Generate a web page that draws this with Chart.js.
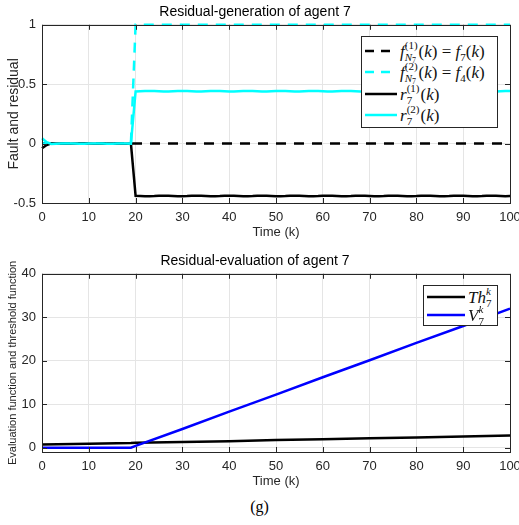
<!DOCTYPE html>
<html>
<head>
<meta charset="utf-8">
<script src="https://cdn.jsdelivr.net/npm/chart.js@4"></script>
<style>
  body { margin: 0; background: #fff; width: 519px; height: 525px; position: relative; overflow: hidden; }
  .wrap { position: absolute; left: 0; width: 519px; height: 240px; }
  .legend { position: absolute; background: #fff; border: 1px solid #262626; font-family: "Liberation Serif", "DejaVu Serif", serif; font-size: 17px; font-weight: normal; color: #111; box-sizing: border-box; }
  .legend .row { position: absolute; left: 0; height: 22px; display: flex; align-items: center; white-space: nowrap; }
  .legend svg { flex: none; margin-left: 3px; margin-right: 3px; }
  .legend i { font-style: italic; }
  .ss { display: inline-block; vertical-align: -4px; font-size: 11px; line-height: 12px; margin-right: 1px; }
  .ss span { display: block; }
  .ss sub { font-size: 8px; vertical-align: -2px; line-height: 0; }
  .lowsub { font-size: 11px; vertical-align: -4px; line-height: 0; }
  #caption { position: absolute; top: 498px; left: 0; width: 519px; text-align: center; font-family: "Liberation Serif", "DejaVu Serif", serif; font-size: 16px; color: #000; }
</style>
</head>
<body>
<div class="wrap" style="top:0px"><canvas id="residual_generation_chart"></canvas></div>
<div class="wrap" style="top:249px"><canvas id="residual_evaluation_chart"></canvas></div>

<div class="legend" style="left:361px; top:36px; width:137px; height:92px;">
  <div class="row" style="top:3px">
    <svg width="32" height="6"><line x1="0" y1="3" x2="32" y2="3" stroke="#000" stroke-width="2.5" stroke-dasharray="9,7"/></svg>
    <span><i>f</i><span class="ss"><span>(1)</span><span><i>N</i><sub>7</sub></span></span>(<i>k</i>) = <i>f</i><span class="lowsub">7</span>(<i>k</i>)</span>
  </div>
  <div class="row" style="top:24px">
    <svg width="32" height="6"><line x1="0" y1="3" x2="32" y2="3" stroke="#00ffff" stroke-width="2.5" stroke-dasharray="9,7"/></svg>
    <span><i>f</i><span class="ss"><span>(2)</span><span><i>N</i><sub>7</sub></span></span>(<i>k</i>) = <i>f</i><span class="lowsub">4</span>(<i>k</i>)</span>
  </div>
  <div class="row" style="top:46px">
    <svg width="32" height="6"><line x1="0" y1="3" x2="32" y2="3" stroke="#000" stroke-width="2.5"/></svg>
    <span><i>r</i><span class="ss"><span>(1)</span><span>7</span></span>(<i>k</i>)</span>
  </div>
  <div class="row" style="top:67px">
    <svg width="32" height="6"><line x1="0" y1="3" x2="32" y2="3" stroke="#00ffff" stroke-width="2.5"/></svg>
    <span><i>r</i><span class="ss"><span>(2)</span><span>7</span></span>(<i>k</i>)</span>
  </div>
</div>

<div class="legend" style="left:423px; top:285px; width:75px; height:41px;">
  <div class="row" style="top:0px">
    <svg width="38" height="6"><line x1="0" y1="3" x2="38" y2="3" stroke="#000" stroke-width="2.5"/></svg>
    <span><i>Th</i><span class="ss"><span><i>k</i></span><span>7</span></span></span>
  </div>
  <div class="row" style="top:18px">
    <svg width="38" height="6"><line x1="0" y1="3" x2="38" y2="3" stroke="#0000ff" stroke-width="2.5"/></svg>
    <span><i>V</i><span class="ss"><span><i>k</i></span><span>7</span></span></span>
  </div>
</div>

<div id="caption">(g)</div>

<script>
// time steps
const k_values = [0,1,2,3,4,5,6,7,8,9,10,11,12,13,14,15,16,17,18,19,20,
  21,22,23,24,25,26,27,28,29,30,31,32,33,34,35,36,37,38,39,40,
  41,42,43,44,45,46,47,48,49,50,51,52,53,54,55,56,57,58,59,60,
  61,62,63,64,65,66,67,68,69,70,71,72,73,74,75,76,77,78,79,80,
  81,82,83,84,85,86,87,88,89,90,91,92,93,94,95,96,97,98,99,100];

// faults (break points)
const fault1_k = [0, 100];
const fault1_values = [0, 0];
const fault2_k = [0, 19, 20, 100];
const fault2_values = [0, 0, 1, 1];

// residual r7(1)
const residual1_values = [-0.040,-0.012,0.002,0.001,0.000,-0.001,-0.001,0.000,0.001,0.001,0.000,
  -0.001,-0.001,0.000,0.001,0.001,0.000,-0.001,-0.001,0.000,-0.439,
  -0.441,-0.443,-0.443,-0.442,-0.440,-0.438,-0.439,-0.441,-0.443,-0.443,
  -0.442,-0.440,-0.438,-0.439,-0.441,-0.443,-0.443,-0.442,-0.440,-0.438,
  -0.439,-0.441,-0.443,-0.443,-0.442,-0.440,-0.438,-0.439,-0.441,-0.443,
  -0.443,-0.442,-0.440,-0.438,-0.439,-0.441,-0.443,-0.443,-0.442,-0.440,
  -0.438,-0.439,-0.441,-0.443,-0.443,-0.442,-0.440,-0.438,-0.439,-0.441,
  -0.443,-0.443,-0.442,-0.440,-0.438,-0.439,-0.441,-0.443,-0.443,-0.442,
  -0.440,-0.438,-0.439,-0.441,-0.443,-0.443,-0.442,-0.440,-0.438,-0.439,
  -0.441,-0.443,-0.443,-0.442,-0.440,-0.438,-0.439,-0.441,-0.443,-0.442];

// residual r7(2)
const residual2_values = [0.045,0.012,-0.003,-0.001,0.000,0.001,0.001,0.000,-0.001,-0.001,0.000,
  0.001,0.001,0.000,-0.001,-0.001,0.000,0.001,0.001,0.000,0.439,
  0.441,0.443,0.443,0.442,0.440,0.438,0.439,0.441,0.443,0.443,
  0.442,0.440,0.438,0.439,0.441,0.443,0.443,0.442,0.440,0.438,
  0.439,0.441,0.443,0.443,0.442,0.440,0.438,0.439,0.441,0.443,
  0.443,0.442,0.440,0.438,0.439,0.441,0.443,0.443,0.442,0.440,
  0.438,0.439,0.441,0.443,0.443,0.442,0.440,0.438,0.439,0.441,
  0.443,0.443,0.442,0.440,0.438,0.439,0.441,0.443,0.443,0.442,
  0.440,0.438,0.439,0.441,0.443,0.443,0.442,0.440,0.438,0.439,
  0.441,0.443,0.443,0.442,0.440,0.438,0.439,0.441,0.443,0.442];

// evaluation / threshold
const eval_k = [0, 10, 19, 20, 30, 40, 50, 60, 70, 80, 90, 100];
const threshold_values = [0.7, 0.9, 1.05, 1.1, 1.3, 1.5, 1.75, 1.95, 2.15, 2.35, 2.55, 2.8];
const evaluation_values = [0, 0, 0, 0.4, 4.3, 8.3, 12.2, 16.2, 20.1, 24.1, 28.0, 32.0];

const x_ticks = [0, 10, 20, 30, 40, 50, 60, 70, 80, 90, 100];
const top_y_ticks = [-0.5, 0, 0.5, 1];
const bottom_y_ticks = [0, 10, 20, 30, 40];

const axis_color = '#262626';
const grid_color = '#e5e5e5';
const font_family = '"Liberation Sans", Arial, sans-serif';

function to_points(xs, ys) {
    return xs.map((x, i) => ({ x: x, y: ys[i] }));
}

// box round the plot area with inward tick marks
const box_plugin = {
    id: 'box_plugin',
    afterDatasetsDraw(chart) {
        const ctx = chart.ctx;
        const area = chart.chartArea;
        const x_scale = chart.scales.x;
        const y_scale = chart.scales.y;
        ctx.save();
        ctx.strokeStyle = axis_color;
        ctx.lineWidth = 1;
        ctx.beginPath();
        x_scale.ticks.forEach(t => {
            const px = Math.round(x_scale.getPixelForValue(t.value)) + 0.5;
            ctx.moveTo(px, area.bottom); ctx.lineTo(px, area.bottom - 5);
            ctx.moveTo(px, area.top); ctx.lineTo(px, area.top + 5);
        });
        y_scale.ticks.forEach(t => {
            const py = Math.round(y_scale.getPixelForValue(t.value)) + 0.5;
            ctx.moveTo(area.left, py); ctx.lineTo(area.left + 5, py);
            ctx.moveTo(area.right, py); ctx.lineTo(area.right - 5, py);
        });
        ctx.stroke();
        ctx.strokeRect(Math.round(area.left) + 0.5, Math.round(area.top) + 0.5,
            Math.round(area.right - area.left), Math.round(area.bottom - area.top));
        ctx.restore();
    }
};

function make_options(title_text, y_title, y_title_size, y_min, y_max, y_ticks) {
    return {
        responsive: false,
        animation: false,
        layout: { padding: { left: 0, right: 9, top: 0, bottom: 0 } },
        plugins: {
            legend: false,
            tooltip: { enabled: false },
            title: {
                display: true,
                text: title_text,
                color: '#000',
                font: { family: font_family, size: 14, weight: 'normal' },
                padding: { top: 4, bottom: 4 }
            }
        },
        scales: {
            x: {
                type: 'linear',
                min: 0, max: 100,
                afterFit(scale) { scale.height = 37; scale.paddingRight = 0; scale.paddingLeft = 0; },
                afterBuildTicks(scale) { scale.ticks = x_ticks.map(v => ({ value: v })); },
                grid: { color: grid_color, drawTicks: false },
                border: { display: false },
                ticks: { color: axis_color, padding: 7, font: { family: font_family, size: 13 } },
                title: { display: true, text: 'Time (k)', color: axis_color, padding: { top: 0, bottom: 0 },
                    font: { family: font_family, size: 13 } }
            },
            y: {
                min: y_min, max: y_max,
                afterFit(scale) { scale.width = 42; scale.paddingTop = 0; scale.paddingBottom = 0; },
                afterBuildTicks(scale) { scale.ticks = y_ticks.map(v => ({ value: v })); },
                grid: { color: grid_color, drawTicks: false },
                border: { display: false },
                ticks: { color: axis_color, padding: 6, font: { family: font_family, size: 13 },
                    callback: value => String(value) },
                title: { display: true, text: y_title, color: axis_color, padding: { top: 6, bottom: 0 },
                    font: { family: font_family, size: y_title_size } }
            }
        }
    };
}

function get_residual_generation_chart() {
    const residual_generation_chart = document.getElementById('residual_generation_chart');
    residual_generation_chart.width = 519;
    residual_generation_chart.height = 240;

    new Chart(residual_generation_chart, {
        type: 'line',
        data: {
            datasets: [{
                data: to_points(k_values, residual2_values),
                borderColor: '#00ffff', borderWidth: 2.5, pointRadius: 0, order: 0, clip: 4
            }, {
                data: to_points(k_values, residual1_values),
                borderColor: '#000000', borderWidth: 2.5, pointRadius: 0, order: 1, clip: 4
            }, {
                data: to_points(fault2_k, fault2_values),
                borderColor: '#00ffff', borderWidth: 2.5, borderDash: [10, 8], pointRadius: 0, order: 2, clip: 4
            }, {
                data: to_points(fault1_k, fault1_values),
                borderColor: '#000000', borderWidth: 2.5, borderDash: [10, 8], pointRadius: 0, order: 3, clip: 4
            }]
        },
        options: make_options('Residual-generation of agent 7', 'Fault and residual', 14, -0.5, 1, top_y_ticks),
        plugins: [box_plugin]
    });
};

function get_residual_evaluation_chart() {
    const residual_evaluation_chart = document.getElementById('residual_evaluation_chart');
    residual_evaluation_chart.width = 519;
    residual_evaluation_chart.height = 240;

    new Chart(residual_evaluation_chart, {
        type: 'line',
        data: {
            datasets: [{
                data: to_points(eval_k, evaluation_values),
                borderColor: '#0000ff', borderWidth: 2.5, pointRadius: 0, order: 0, clip: 4
            }, {
                data: to_points(eval_k, threshold_values),
                borderColor: '#000000', borderWidth: 2.5, pointRadius: 0, order: 1, clip: 4
            }]
        },
        options: make_options('Residual-evaluation of agent 7', 'Evaluation function and threshold function', 11, -1, 40, bottom_y_ticks),
        plugins: [box_plugin]
    });
};

get_residual_generation_chart();
get_residual_evaluation_chart();
</script>
</body>
</html>
